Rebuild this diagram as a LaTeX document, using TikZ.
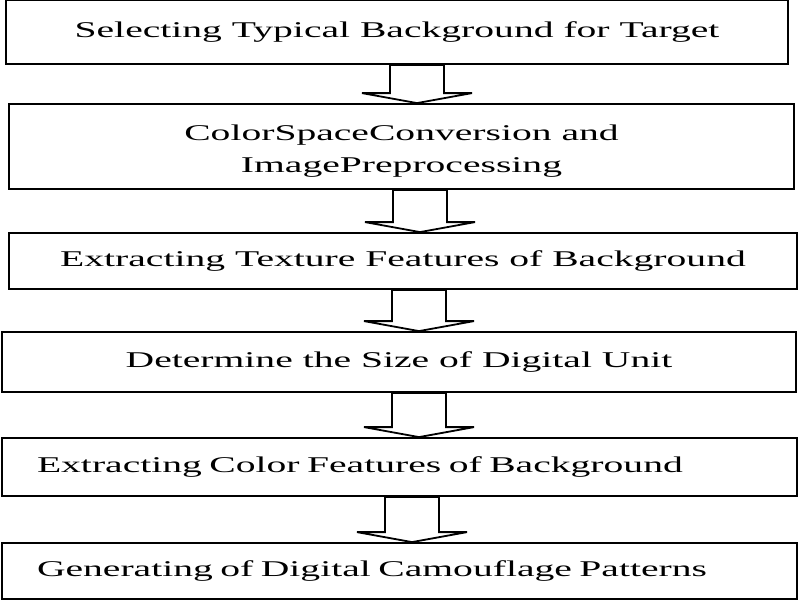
\documentclass[tikz,border=0pt]{standalone}
\usepackage{fontspec}
\setmainfont[FakeStretch=1.76]{Liberation Serif}
\usetikzlibrary{calc}

% hollow block arrow: x position, upper box, lower box
\newcommand{\hollowarrow}[3]{%
  \draw[blockarrow] let \p1=(#2.south), \p2=(#3.north) in
    (#1pt-27pt,\y1) -- (#1pt-27pt,\y2+10pt) -- (#1pt-55pt,\y2+10pt) -- (#1pt,\y2)
    -- (#1pt+55pt,\y2+10pt) -- (#1pt+27pt,\y2+10pt) -- (#1pt+27pt,\y1) -- cycle;}

\begin{document}
\begin{tikzpicture}[x=1pt, y=-1pt,
    stepbox/.style={draw, line width=1.8pt, inner sep=0pt,
      font=\fontsize{22.5}{32}\selectfont},
    blockarrow/.style={draw, fill=white, line width=1.8pt, line join=miter}]
  \useasboundingbox (0,0) rectangle (800,600); % page size
  % boxes of the flow
  \node[stepbox, minimum width=782, minimum height=64] (select) at (397,32) {Selecting Typical Background for Target};
  \node[stepbox, minimum width=785, minimum height=85, align=center] (convert) at (401.5,146.5) {\rule{0pt}{24pt}ColorSpaceConversion and\\ImagePreprocessing};
  \node[stepbox, minimum width=788, minimum height=56] (texture) at (403,261) {Extracting Texture Features of Background};
  \node[stepbox, minimum width=794, minimum height=60] (unit) at (399,362) {Determine the Size of Digital Unit};
  \node[stepbox, minimum width=795, minimum height=58, text width=725, align=left] (color) at (399.5,467) {Extracting Color Features of Background};
  \node[stepbox, minimum width=795, minimum height=56, text width=725, align=left] (pattern) at (399.5,571) {Generating of Digital Camouflage Patterns};
  % arrows between the boxes
  \hollowarrow{417}{select}{convert}
  \hollowarrow{420}{convert}{texture}
  \hollowarrow{419}{texture}{unit}
  \hollowarrow{419}{unit}{color}
  \hollowarrow{412}{color}{pattern}
\end{tikzpicture}
\end{document}
